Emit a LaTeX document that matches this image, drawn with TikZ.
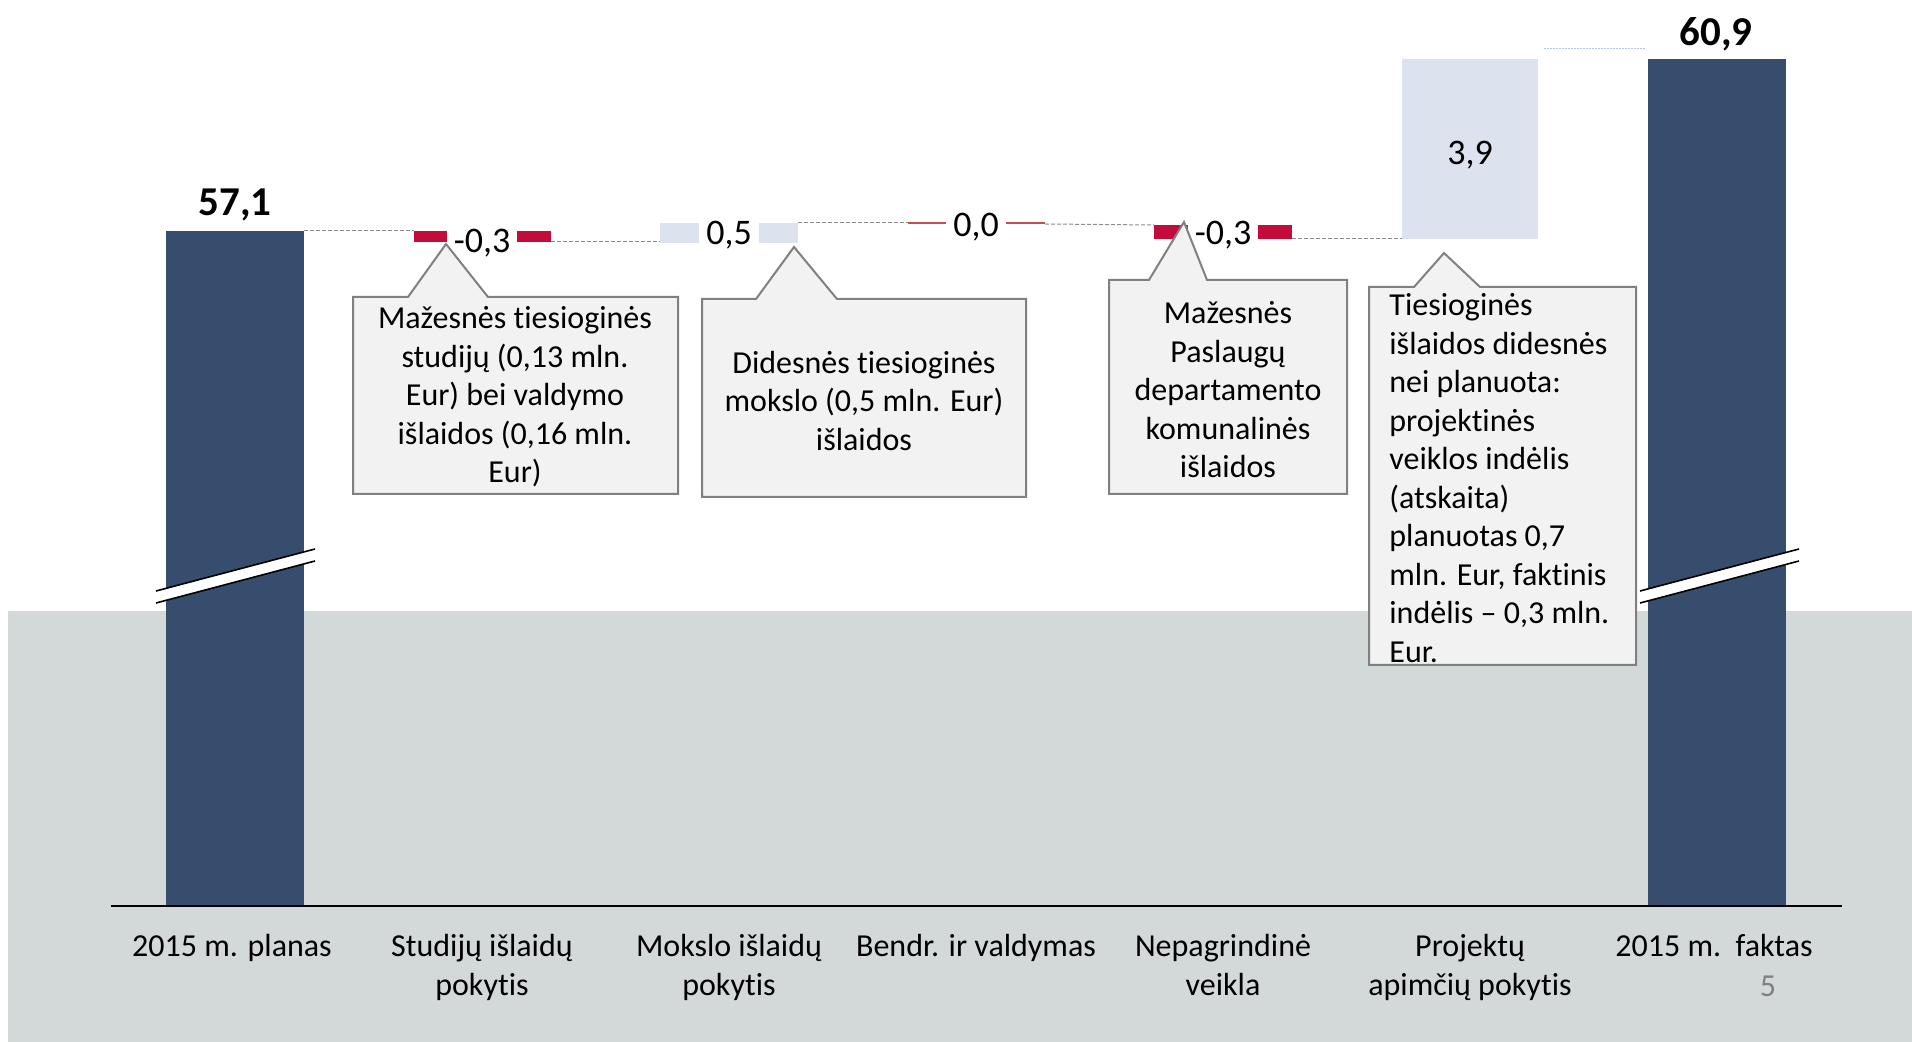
\documentclass[tikz,border=0pt]{standalone}
\usepackage{fontspec}
\setmainfont{Carlito}[Ligatures={TeX,NoCommon}]
\definecolor{barblue}{RGB}{55,77,110}
\definecolor{uplight}{RGB}{220,227,238}
\definecolor{downred}{RGB}{196,12,58}
\definecolor{zerored}{RGB}{192,80,77}
\definecolor{floorgray}{RGB}{211,217,217}
\definecolor{notefill}{RGB}{242,242,242}
\definecolor{noteline}{RGB}{128,128,128}
\definecolor{linkgray}{RGB}{140,140,140}
\definecolor{linkblue}{RGB}{180,198,228}

\begin{document}
\begin{tikzpicture}[x=0.5pt,y=-0.5pt,
    every node/.style={font=\fontsize{16}{19.25}\selectfont, inner sep=0pt},
    link/.style={linkgray, dash pattern=on 2pt off 1pt, line width=0.5pt},
    callout/.style={fill=notefill, draw=noteline, line width=1pt},
    note/.style={align=center},
    value/.style={font=\fontsize{18}{22}\selectfont, fill=white, inner xsep=3.5pt, inner ysep=1pt},
    total/.style={font=\bfseries\fontsize{20.5}{24}\selectfont},
    catlabel/.style={align=center, anchor=north}]
    \useasboundingbox (0,0) rectangle (1912,1042);

    % Floor of the slide
    \fill[floorgray] (8,611) rectangle (1912,1042);

    % Bars of the waterfall
    \fill[barblue] (166,906) rectangle (304,231);
    \fill[downred] (414,231) rectangle (551,242);
    \fill[uplight] (660,223) rectangle (798,243);
    \draw[zerored, line width=1pt] (908,223.5) -- (1045,223.5);
    \fill[downred] (1154,225) rectangle (1292,239);
    \fill[uplight] (1402,59) rectangle (1538,239);
    \fill[barblue] (1648,906) rectangle (1786,59);

    % Bar corners for the links
    \coordinate (plan-r) at (304,231);
    \coordinate (stud-l) at (414,231);
    \coordinate (stud-r) at (551,242);
    \coordinate (moks-l) at (660,242);
    \coordinate (moks-r) at (798,223);
    \coordinate (bendr-l) at (908,223);
    \coordinate (bendr-r) at (1045,224);
    \coordinate (nepag-l) at (1154,225);
    \coordinate (nepag-r) at (1292,239);
    \coordinate (proj-l) at (1402,239);
    \coordinate (proj-r) at (1544,49);
    \coordinate (fakt-l) at (1645,49);

    % Links between the bars
    \draw[link] (plan-r) -- (stud-l);
    \draw[link] (stud-r) -- (moks-l);
    \draw[link] (moks-r) -- (bendr-l);
    \draw[link] (bendr-r) -- (nepag-l);
    \draw[link] (nepag-r) -- (proj-l);
    \draw[linkblue, dash pattern=on 1pt off 0.5pt, line width=0.5pt] (proj-r) -- (fakt-l);

    % Break marks on the two totals
    \foreach \x in {156,1640} {
        \fill[white] (\x,591) -- (\x+159,549) -- (\x+159,561) -- (\x,603) -- cycle;
        \draw[line width=0.8pt] (\x,591) -- (\x+159,549);
        \draw[line width=0.8pt] (\x,603) -- (\x+159,561);
    }

    % Values
    \node[total] (plan-val) at (235,205) {57,1};
    \node[total] (fakt-val) at (1716,34) {60,9};
    \node[value] (stud-val) at (482,243) {-0,3};
    \node[value] (moks-val) at (729,235) {0,5};
    \node[value] (bendr-val) at (976,227) {0,0};
    \node[value] (nepag-val) at (1223,235) {-0,3};
    \node[value, fill=none] (proj-val) at (1470,155) {3,9};

    % Callouts
    \foreach \l/\r/\t/\b/\bl/\br/\tx/\ty in {353/678/297/494/408/488/446/244,
        702/1026/299/497/756/837/794/247,
        1109/1347/280/494/1149/1207/1184/222,
        1369/1636/287/665/1414/1480/1444/253} {
        \draw[callout] (\l,\t) -- (\bl,\t) -- (\tx,\ty) -- (\br,\t) -- (\r,\t) -- (\r,\b) -- (\l,\b) -- cycle;
    }
    \node[note] (stud-note) at (515,397) {Mažesnės tiesioginės\\studijų (0,13 mln.\\Eur) bei valdymo\\išlaidos (0,16 mln.\\Eur)};
    \node[note] (moks-note) at (864,401) {Didesnės tiesioginės\\mokslo (0,5 mln. Eur)\\išlaidos};
    \node[note] (nepag-note) at (1228,390) {Mažesnės\\Paslaugų\\departamento\\komunalinės\\išlaidos};
    \node[note, align=left, anchor=west] (proj-note) at (1389,478) {Tiesioginės\\išlaidos didesnės\\nei planuota:\\projektinės\\veiklos indėlis\\(atskaita)\\planuotas 0,7\\mln. Eur, faktinis\\indėlis – 0,3 mln.\\Eur.};

    % Axis
    \draw[line width=1.2pt] (111,906) -- (1842,906);

    % Categories
    \foreach \x/\name/\txt in {232/plan/2015 m. planas,
        482/stud/Studijų išlaidų\\pokytis,
        729/moks/Mokslo išlaidų\\pokytis,
        976/bendr/Bendr. ir valdymas,
        1223/nepag/Nepagrindinė\\veikla,
        1470/proj/Projektų\\apimčių pokytis,
        1714/fakt/2015 m.\ \ faktas} {
        \node[catlabel] (cat-\name) at (\x,934) {\txt};
    }

    % Page number
    \node[text=gray] (page) at (1768,986) {5};
\end{tikzpicture}
\end{document}
